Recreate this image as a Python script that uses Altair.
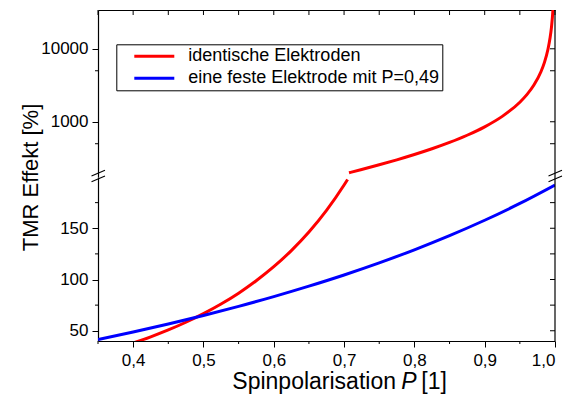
import altair as alt
import pandas as pd

# ---- data ----
SERIES = ["identische Elektroden", "eine feste Elektrode mit P=0,49"]
COLORS = ["#FF0000", "#0000FF"]

# identical electrodes, lower (linear) part
P_RED_LOW = [0.35, 0.375, 0.40, 0.425, 0.45, 0.475, 0.50, 0.525, 0.55, 0.575,
             0.60, 0.625, 0.65, 0.675, 0.70, 0.705]
TMR_RED_LOW = [27.9, 32.7, 38.1, 44.1, 50.8, 58.3, 66.7, 76.1, 86.7, 98.8,
               112.5, 128.2, 146.3, 167.4, 192.2, 197.6]

# identical electrodes, upper (log) part
P_RED_UP = [0.707, 0.725, 0.75, 0.775, 0.80, 0.825, 0.85, 0.875, 0.90, 0.925,
            0.95, 0.96, 0.97, 0.98, 0.985, 0.99, 0.993, 0.995, 0.997, 0.998]
TMR_RED_UP = [200, 221.6, 257.1, 300.8, 355.6, 426.2, 520.7, 653.3, 852.6, 1185,
              1851, 2351, 3184, 4851, 6517, 9850, 14136, 19850, 33183, 49850]

# one fixed electrode with P = 0.49
P_BLUE = [0.35, 0.40, 0.45, 0.50, 0.55, 0.60, 0.65, 0.70, 0.75, 0.80,
          0.85, 0.90, 0.95, 1.00]
TMR_BLUE = [41.4, 48.8, 56.6, 64.9, 73.8, 83.3, 93.5, 104.4, 116.2, 129.0,
            142.8, 157.8, 174.2, 192.2]

X_MAJOR = [0.4, 0.5, 0.6, 0.7, 0.8, 0.9, 1.0]
X_MINOR = [0.35, 0.45, 0.55, 0.65, 0.75, 0.85, 0.95]
X_ALL = sorted(X_MAJOR + X_MINOR)
Y_LOW_MAJOR = [50, 100, 150]
Y_LOW_MINOR = [75, 125, 175]
Y_UP_MAJOR = [1000, 10000]
Y_UP_MINOR = [500, 5000]

X_DOMAIN = [0.35, 1.0]
Y_LOW_DOMAIN = [40, 200]
Y_UP_DOMAIN = [175, 34000]

X_TITLE_PARTS = ["Spinpolarisation", "P", "[1]"]

# ---- layout ----
W = 457
H_UP = 167
H_LOW = 164
FONT = "Liberation Sans"

low_df = pd.DataFrame({
    "P": P_RED_LOW + P_BLUE,
    "TMR": TMR_RED_LOW + TMR_BLUE,
    "Serie": [SERIES[0]] * len(P_RED_LOW) + [SERIES[1]] * len(P_BLUE),
})
up_df = pd.DataFrame({"P": P_RED_UP, "TMR": TMR_RED_UP,
                      "Serie": [SERIES[0]] * len(P_RED_UP)})

color_scale = alt.Scale(domain=SERIES, range=COLORS)

# ---------- encodings ----------
def x_low(field):
    return alt.X(field, type="quantitative",
                 scale=alt.Scale(domain=X_DOMAIN, nice=False, zero=False),
                 axis=alt.Axis(values=X_MAJOR, tickSize=6, labelPadding=5,
                               labelExpr="replace(format(datum.value, '.1f'), '.', ',')",
                               title=None))

def y_low(field):
    return alt.Y(field, type="quantitative",
                 scale=alt.Scale(domain=Y_LOW_DOMAIN, nice=False, zero=False),
                 axis=alt.Axis(values=Y_LOW_MAJOR, tickSize=6, labelPadding=4,
                               format="d", title="TMR Effekt [%]",
                               titleX=-60.7, titleY=0, titleAngle=270,
                               titleAlign="center", titleBaseline="alphabetic"))

def x_up(field):
    return alt.X(field, type="quantitative",
                 scale=alt.Scale(domain=X_DOMAIN, nice=False, zero=False),
                 axis=alt.Axis(orient="top", labels=False, ticks=False,
                               title=None))

def y_up(field):
    return alt.Y(field, type="quantitative",
                 scale=alt.Scale(type="log", domain=Y_UP_DOMAIN, nice=False),
                 axis=alt.Axis(values=Y_UP_MAJOR, tickSize=6, labelPadding=4,
                               format="d", title=None))

def one():
    return alt.Data(values=[{}])

# ---------- lower panel ----------
low_lines = alt.Chart(low_df).mark_line(strokeWidth=3, clip=True,
                                        interpolate="monotone").encode(
    x=x_low("P"), y=y_low("TMR"),
    color=alt.Color("Serie:N", scale=color_scale, legend=None),
)
low_xminor = alt.Chart(pd.DataFrame({"v": X_MINOR})).mark_rule(
    color="black", strokeWidth=1).encode(
    x=x_low("v"), y=alt.value(H_LOW), y2=alt.value(H_LOW + 3))
low_yminor = alt.Chart(pd.DataFrame({"v": Y_LOW_MINOR})).mark_rule(
    color="black", strokeWidth=1).encode(
    y=y_low("v"), x=alt.value(-3), x2=alt.value(0))
low_right_ticks = alt.Chart(pd.DataFrame({"v": Y_LOW_MAJOR + Y_LOW_MINOR})).mark_rule(
    color="black", strokeWidth=1).encode(
    y=y_low("v"), x=alt.value(W - 5), x2=alt.value(W))
low_right_dom = alt.Chart(one()).mark_rule(color="black", strokeWidth=1.2).encode(
    x=alt.value(W), y=alt.value(0), y2=alt.value(H_LOW))

breaks = []
for bx in (0, W):
    for dy in (0.0, 5.7):
        breaks.append(alt.Chart(one()).mark_rule(color="black", strokeWidth=1.1).encode(
            x=alt.value(bx - 6.5), x2=alt.value(bx + 7),
            y=alt.value(-1 + dy), y2=alt.value(-6.7 + dy)))

# x-axis title with italic P
title_parts = []
for txt, xo, style in zip(X_TITLE_PARTS, (134.3, 303.3, 323.3),
                          ("normal", "italic", "normal")):
    title_parts.append(alt.Chart(one()).mark_text(
        text=txt, font=FONT, fontSize=23, fontStyle=style, color="black",
        align="left", baseline="alphabetic").encode(
        x=alt.value(xo), y=alt.value(H_LOW + 48)))

lower = alt.layer(low_lines, low_xminor, low_yminor, low_right_ticks,
                  low_right_dom, *breaks, *title_parts).properties(
    width=W, height=H_LOW)

# ---------- upper panel ----------
up_lines = alt.Chart(up_df).mark_line(strokeWidth=3, clip=True,
                                      interpolate="monotone").encode(
    x=x_up("P"), y=y_up("TMR"),
    color=alt.Color("Serie:N", scale=color_scale,
                    legend=alt.Legend(title=None, orient="none",
                                      legendX=18.3, legendY=34.3,
                                      direction="vertical",
                                      symbolType="M-4,0H4", symbolSize=100,
                                      symbolStrokeWidth=3, symbolOffset=26,
                                      labelFontSize=18, labelOffset=25,
                                      labelFont=FONT, labelColor="black",
                                      labelLimit=400,
                                      rowPadding=4, padding=3,
                                      strokeColor="black", fillColor="white",
                                      cornerRadius=0)),
)
up_yminor = alt.Chart(pd.DataFrame({"v": Y_UP_MINOR})).mark_rule(
    color="black", strokeWidth=1).encode(
    y=y_up("v"), x=alt.value(-3), x2=alt.value(0))
up_right_ticks = alt.Chart(pd.DataFrame({"v": Y_UP_MAJOR + Y_UP_MINOR})).mark_rule(
    color="black", strokeWidth=1).encode(
    y=y_up("v"), x=alt.value(W - 5), x2=alt.value(W))
up_top_ticks = alt.Chart(pd.DataFrame({"v": X_ALL})).mark_rule(
    color="black", strokeWidth=1).encode(
    x=x_up("v"), y=alt.value(0), y2=alt.value(5))
up_right_dom = alt.Chart(one()).mark_rule(color="black", strokeWidth=1.2).encode(
    x=alt.value(W), y=alt.value(0), y2=alt.value(H_UP))

upper = alt.layer(up_lines, up_yminor, up_right_ticks, up_top_ticks,
                  up_right_dom).properties(width=W, height=H_UP)

chart = alt.vconcat(upper, lower, spacing=0, bounds="flush").resolve_scale(
    x="independent", y="independent", color="independent"
).resolve_legend(color="independent").properties(
    padding={"left": 19, "top": 9, "right": 5, "bottom": 5}
).configure(font=FONT, background="white").configure_view(
    stroke=None
).configure_axis(
    grid=False, domainColor="black", domainWidth=1.2, tickColor="black",
    tickWidth=1, labelColor="black", labelFont=FONT, labelFontSize=17,
    titleFont=FONT, titleFontSize=22, titleFontWeight="normal",
    titleColor="black",
)

chart.save("out.html", embed_options={"renderer": "svg", "actions": False})
